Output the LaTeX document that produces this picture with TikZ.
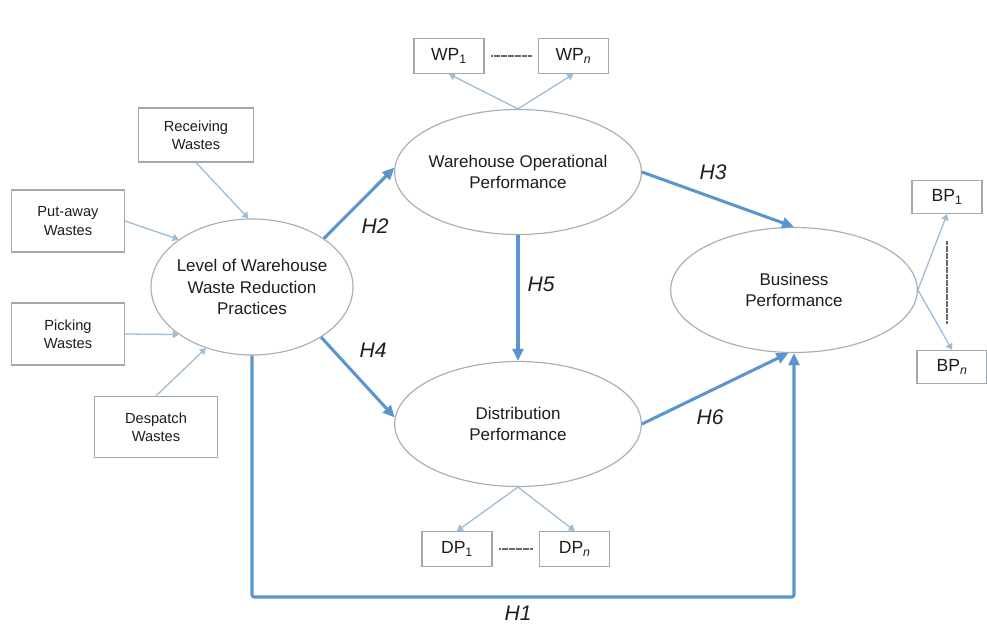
\documentclass[tikz,border=0pt]{standalone}
\usepackage{fontspec}
\setmainfont{Liberation Sans}
\usetikzlibrary{arrows.meta,positioning,shapes.geometric}
\definecolor{ink}{HTML}{1E1E1E}
\definecolor{pathblue}{HTML}{5B95CF}
\definecolor{linkblue}{HTML}{9DBCD9}
\definecolor{boxgray}{HTML}{A0A8B0}
\definecolor{ovalgray}{HTML}{ABAFB4}
\definecolor{dotgray}{HTML}{6A6A6A}
\tikzset{
  every node/.style={text=ink},
  wastebox/.style={draw=boxgray, line width=0.9pt, fill=white, align=center, minimum width=3.39cm, minimum height=1.86cm, font=\fontsize{12.5}{15.5}\selectfont},
  itembox/.style={draw=boxgray, line width=0.9pt, fill=white, minimum width=2.1cm, minimum height=1.05cm, font=\fontsize{15}{17}\selectfont},
  construct/.style={ellipse, draw=ovalgray, line width=1pt, fill=white, align=center, inner xsep=-4mm, inner ysep=0pt, minimum width=7.4cm, minimum height=3.75cm, font=\fontsize{14.5}{18}\selectfont},
  hlabel/.style={font=\fontsize{18}{20}\selectfont\itshape},
  patharrow/.style={-{Triangle[length=3.6mm,width=3.2mm]}, line width=2.6pt, draw=pathblue},
  linkarrow/.style={-{Triangle[length=1.8mm,width=2.2mm]}, line width=1.1pt, draw=linkblue},
  dotline/.style={draw=dotgray, line width=1.3pt, dash pattern=on 0.5pt off 0.5pt},
}
\begin{document}
\begin{tikzpicture}[x=0.03cm, y=-0.03cm]
\useasboundingbox (0,0) rectangle (987,626);
% constructs
\node[construct, minimum width=6.06cm, minimum height=4.08cm] (lvl) at (252,287) {Level of Warehouse\\Waste Reduction\\Practices};
\node[construct] (wop) at (518,172) {Warehouse Operational\\Performance};
\node[construct] (dp) at (518,424) {Distribution\\Performance};
\node[construct] (bp) at (794,290) {Business\\Performance};
% waste boxes
\node[wastebox, minimum width=3.45cm, minimum height=1.62cm] (recv) at (196,135) {Receiving\\Wastes};
\node[wastebox] (put) at (68,221) {Put-away\\Wastes};
\node[wastebox] (pick) at (68,334) {Picking\\Wastes};
\node[wastebox, minimum width=3.69cm, minimum height=1.83cm] (desp) at (156,427) {Despatch\\Wastes};
% indicators
\node[itembox] (wp1) at (449,56) {WP\textsubscript{1}};
\node[itembox, right=16mm of wp1] (wpn) {WP\textsubscript{\textit{n}}};
\node[itembox] (dp1) at (457,549) {DP\textsubscript{1}};
\node[itembox, right=14mm of dp1] (dpn) {DP\textsubscript{\textit{n}}};
\node[itembox, minimum height=1cm] (bp1) at (947,197) {BP\textsubscript{1}};
\node[itembox, minimum height=1cm] (bpn) at (952,367) {BP\textsubscript{\textit{n}}};
\draw[dotline, shorten <=2mm, shorten >=2mm] (wp1) -- (wpn);
\draw[dotline, shorten <=2mm, shorten >=2mm] (dp1) -- (dpn);
\draw[dotline, shorten <=8mm, shorten >=8mm] (bp1.south) -- (bp1.south |- bpn.north);
% measurement links
\draw[linkarrow] (recv.south) -- (lvl.93);
\draw[linkarrow] (put.east) -- (lvl.147);
\draw[linkarrow] (pick.east) -- (lvl.213);
\draw[linkarrow] (desp.north) -- (lvl.233);
\draw[linkarrow] (wop.north) -- (wp1.south);
\draw[linkarrow] (wop.north) -- (wpn.south);
\draw[linkarrow] (dp.south) -- (dp1.north);
\draw[linkarrow] (dp.south) -- (dpn.north);
\draw[linkarrow] (bp.east) -- (bp1.south);
\draw[linkarrow] (bp.east) -- (bpn.north);
% hypotheses
\draw[patharrow] (lvl.34) -- (wop.178);
\draw[patharrow] (wop.east) -- (bp.north);
\draw[patharrow] (lvl.324) -- (dp.177);
\draw[patharrow] (wop.south) -- (dp.north);
\draw[patharrow] (dp.east) -- (bp.265);
\coordinate (h1base) at (520,597);
\draw[patharrow, rounded corners=2pt] (lvl.south) |- (h1base) -| (bp.south);
\node[hlabel] (h1) at (518,613) {H1};
\node[hlabel] (h2) at (375,226) {H2};
\node[hlabel] (h3) at (713,172) {H3};
\node[hlabel] (h4) at (373,350) {H4};
\node[hlabel] (h5) at (541,284) {H5};
\node[hlabel] (h6) at (710,417) {H6};
\end{tikzpicture}
\end{document}
